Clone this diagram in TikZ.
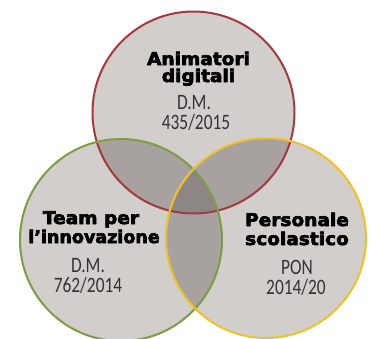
\documentclass[tikz,border=0pt]{standalone}
\usepackage{fontspec}
\newfontfamily\heavyfont[FakeBold=3.5]{DejaVu Sans Bold}
\newfontfamily\subfont{Carlito}
\definecolor{fillone}{HTML}{D1CECC}
\definecolor{filltwo}{HTML}{A7A29F}
\definecolor{fillthree}{HTML}{8C8784}
\definecolor{redline}{HTML}{A33A3F}
\definecolor{greenline}{HTML}{7F9B45}
\definecolor{yellowline}{HTML}{EFC12A}
\definecolor{subtext}{HTML}{353332}
\newcommand\squeezed[1]{\scalebox{0.79}[1]{#1}}
\newcommand\widened[1]{\scalebox{1.06}[1]{#1}}
\begin{document}
\begin{tikzpicture}[x=1pt,y=-1pt,
  heavy/.style={anchor=base, inner sep=0pt, text=black, font=\heavyfont\fontsize{17.5}{19}\selectfont},
  subt/.style={anchor=base, inner sep=0pt, text height=13pt, text depth=0pt, text=subtext, font=\subfont\fontsize{22}{22}\selectfont},
  ring/.style={line width=2pt}]
\useasboundingbox (0,0) rectangle (372,338);
\fill[white] (0,0) rectangle (372,338);
\coordinate (cr) at (193.5,112.5);
\coordinate (cg) at (121,240);
\coordinate (cy) at (266,238);
% single fills
\fill[fillone] (cr) circle[radius=101pt];
\fill[fillone] (cg) circle[radius=101pt];
\fill[fillone] (cy) circle[radius=100pt];
% pairwise overlaps
\begin{scope}
  \clip (cr) circle[radius=101pt];
  \fill[filltwo] (cg) circle[radius=101pt];
  \fill[filltwo] (cy) circle[radius=100pt];
\end{scope}
\begin{scope}
  \clip (cg) circle[radius=101pt];
  \fill[filltwo] (cy) circle[radius=100pt];
\end{scope}
% triple overlap
\begin{scope}
  \clip (cr) circle[radius=101pt];
  \clip (cg) circle[radius=101pt];
  \fill[fillthree] (cy) circle[radius=100pt];
\end{scope}
% outlines
\draw[ring, redline] (cr) circle[radius=101pt];
\draw[ring, greenline] (cg) circle[radius=101pt];
\draw[ring, yellowline] (cy) circle[radius=100pt];
% texts top
\node[heavy] (a1) at (198.5,65) {\widened{Animatori}};
\node[heavy] (a2) at (198.5,82) {\widened{digitali}};
\node[subt] (a3) at (194,109) {\squeezed{D.M.}};
\node[subt] (a4) at (196,129.5) {\squeezed{435/2015}};
% texts left
\node[heavy] (t1) at (91,224) {\widened{Team per}};
\node[heavy] (t2) at (94,243) {l’innovazione};
\node[subt] (t3) at (88,272) {\squeezed{D.M.}};
\node[subt] (t4) at (88,292) {\squeezed{762/2014}};
% texts right
\node[heavy] (p1) at (297,226) {\widened{Personale}};
\node[heavy] (p2) at (297,245) {\widened{scolastico}};
\node[subt] (p3) at (297,274) {\squeezed{PON}};
\node[subt] (p4) at (296,294) {\squeezed{2014/20}};
\end{tikzpicture}
\end{document}
